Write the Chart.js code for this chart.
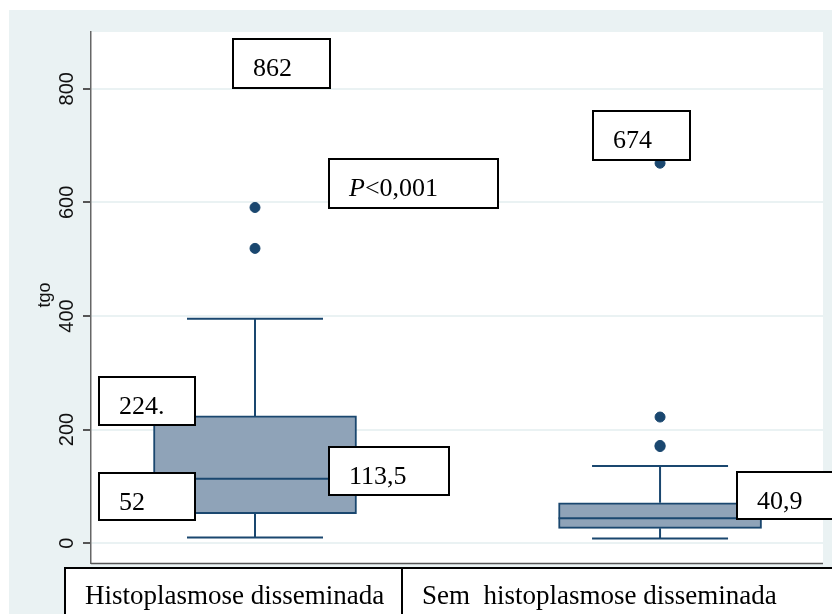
<!DOCTYPE html>
<html lang="pt">
<head>
    <meta charset="UTF-8">
    <title>tgo box plot</title>
    <script src="https://cdn.jsdelivr.net/npm/chart.js"></script>
    <style>
        html, body { margin: 0; padding: 0; background: #fff; }
        #wrap { width: 832px; height: 614px; }
    </style>
</head>
<body>
    <div id="wrap"><canvas id="boxChart" width="832" height="614"></canvas></div>

    <script>
        // data
        const categories = ['Histoplasmose disseminada', 'Sem  histoplasmose disseminada'];
        const lowerWhisker = [10, 8];
        const q1 = [52, 26];
        const medians = [113.5, 44];
        const q3 = [224, 71];
        const upperWhisker = [395, 136];
        const outliers = [
            [519, 591, 862],
            [170, 172, 222, 669]
        ];
        const yTicks = [0, 200, 400, 600, 800];
        const yTitle = 'tgo';

        // text boxes written on the plot (Stata added text)
        const notes = [
            { text: '862', left: 233, top: 39, w: 97, h: 49 },
            { text: 'P<0,001', left: 329, top: 159, w: 169, h: 49, italicP: true },
            { text: '674', left: 593, top: 111, w: 97, h: 49 },
            { text: '224.', left: 99, top: 377, w: 96, h: 48 },
            { text: '52', left: 99, top: 473, w: 96, h: 47 },
            { text: '113,5', left: 329, top: 447, w: 120, h: 48 },
            { text: '40,9', left: 737, top: 472, w: 110, h: 47 }
        ];

        const navy = '#1a476f';
        const boxFill = '#8fa3b8';
        const outerBg = '#eaf2f3';
        const serif = '"Liberation Serif", "Times New Roman", serif';
        const sans = '"Liberation Sans", Arial, sans-serif';

        const stataLook = {
            id: 'stataLook',
            beforeDraw(chart) {
                const { ctx, chartArea: a } = chart;
                ctx.save();
                ctx.fillStyle = '#fff';
                ctx.fillRect(0, 0, chart.width, chart.height);
                ctx.fillStyle = outerBg;
                ctx.fillRect(9, 10, chart.width - 9, chart.height - 10);
                ctx.fillStyle = '#fff';
                ctx.fillRect(a.left, a.top, a.right - a.left, a.bottom - a.top);
                ctx.restore();
            },
            beforeDatasetsDraw(chart) {
                // whiskers
                const { ctx, scales: { x, y } } = chart;
                ctx.save();
                ctx.strokeStyle = navy;
                ctx.lineWidth = 2;
                categories.forEach((c, i) => {
                    const cx = x.getPixelForValue(i);
                    const half = 68;
                    ctx.beginPath();
                    ctx.moveTo(cx, y.getPixelForValue(q3[i]));
                    ctx.lineTo(cx, y.getPixelForValue(upperWhisker[i]));
                    ctx.moveTo(cx - half, y.getPixelForValue(upperWhisker[i]));
                    ctx.lineTo(cx + half, y.getPixelForValue(upperWhisker[i]));
                    ctx.moveTo(cx, y.getPixelForValue(q1[i]));
                    ctx.lineTo(cx, y.getPixelForValue(lowerWhisker[i]));
                    ctx.moveTo(cx - half, y.getPixelForValue(lowerWhisker[i]));
                    ctx.lineTo(cx + half, y.getPixelForValue(lowerWhisker[i]));
                    ctx.stroke();
                });
                ctx.restore();
            },
            afterDatasetsDraw(chart) {
                const { ctx, chartArea: a, scales: { x, y } } = chart;
                ctx.save();
                // medians
                ctx.strokeStyle = navy;
                ctx.lineWidth = 2;
                categories.forEach((c, i) => {
                    const cx = x.getPixelForValue(i);
                    const my = y.getPixelForValue(medians[i]);
                    ctx.beginPath();
                    ctx.moveTo(cx - 101.5, my);
                    ctx.lineTo(cx + 101.5, my);
                    ctx.stroke();
                });

                // bottom axis line
                ctx.strokeStyle = '#555';
                ctx.lineWidth = 1.5;
                ctx.beginPath();
                ctx.moveTo(a.left, a.bottom + 0.5);
                ctx.lineTo(a.right, a.bottom + 0.5);
                ctx.stroke();

                // rotated y tick labels and title
                ctx.fillStyle = '#111';
                ctx.font = '20px ' + sans;
                ctx.textAlign = 'center';
                ctx.textBaseline = 'middle';
                yTicks.forEach(v => {
                    ctx.save();
                    ctx.translate(67, y.getPixelForValue(v));
                    ctx.rotate(-Math.PI / 2);
                    ctx.fillText(String(v), 0, 0);
                    ctx.restore();
                });
                ctx.save();
                ctx.font = '18px ' + sans;
                ctx.translate(45, 295);
                ctx.rotate(-Math.PI / 2);
                ctx.fillText(yTitle, 0, 0);
                ctx.restore();

                // text boxes
                ctx.textAlign = 'left';
                ctx.textBaseline = 'alphabetic';
                notes.forEach(n => {
                    ctx.fillStyle = '#fff';
                    ctx.fillRect(n.left, n.top, n.w, n.h);
                    ctx.strokeStyle = '#000';
                    ctx.lineWidth = 2;
                    ctx.strokeRect(n.left, n.top, n.w, n.h);
                    ctx.fillStyle = '#000';
                    let tx = n.left + 20;
                    const ty = n.top + 37;
                    let txt = n.text;
                    if (n.italicP) {
                        ctx.font = 'italic 26px ' + serif;
                        ctx.fillText('P', tx, ty);
                        tx += ctx.measureText('P').width;
                        txt = txt.slice(1);
                    }
                    ctx.font = '26px ' + serif;
                    ctx.fillText(txt, tx, ty);
                });

                // category label boxes under the plot
                const edges = [65, 402, 845];
                categories.forEach((c, i) => {
                    ctx.fillStyle = '#fff';
                    ctx.fillRect(edges[i], 568, edges[i + 1] - edges[i], 60);
                    ctx.strokeStyle = '#000';
                    ctx.lineWidth = 2;
                    ctx.strokeRect(edges[i], 568, edges[i + 1] - edges[i], 60);
                    ctx.fillStyle = '#000';
                    ctx.font = '27px ' + serif;
                    ctx.fillText(c, edges[i] + 20, 604);
                });
                ctx.restore();
            }
        };

        const ctx = document.getElementById('boxChart').getContext('2d');
        new Chart(ctx, {
            type: 'bar',
            data: {
                datasets: [
                    {
                        type: 'bar',
                        label: 'IQR',
                        data: categories.map((c, i) => ({ x: i, y: [q1[i], q3[i]] })),
                        backgroundColor: boxFill,
                        borderColor: navy,
                        borderWidth: 2,
                        borderSkipped: false,
                        barThickness: 203,
                        order: 2
                    },
                    {
                        type: 'scatter',
                        label: 'outliers',
                        data: outliers.flatMap((list, i) => list.map(v => ({ x: i, y: v }))),
                        backgroundColor: navy,
                        borderColor: navy,
                        pointRadius: 5,
                        order: 1
                    }
                ]
            },
            options: {
                responsive: false,
                animation: false,
                layout: { padding: { left: 9, top: 32, right: 9, bottom: 51 } },
                plugins: { legend: { display: false }, tooltip: { enabled: false } },
                scales: {
                    x: {
                        type: 'linear',
                        min: -0.4049,
                        max: 1.4023,
                        offset: false,
                        display: false
                    },
                    y: {
                        min: -35,
                        max: 900,
                        afterBuildTicks: s => { s.ticks = yTicks.map(v => ({ value: v })); },
                        afterFit: s => { s.width = 82; },
                        ticks: { display: false },
                        grid: {
                            color: outerBg,
                            lineWidth: 2,
                            drawTicks: true,
                            tickLength: 8,
                            tickColor: '#555'
                        },
                        border: { display: true, color: '#666', width: 1.5 }
                    }
                }
            },
            plugins: [stataLook]
        });
    </script>
</body>
</html>
